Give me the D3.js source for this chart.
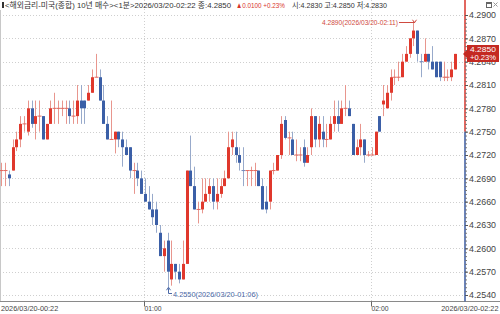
<!DOCTYPE html>
<html><head><meta charset="utf-8">
<script src="https://cdn.jsdelivr.net/npm/d3@7"></script>
<style>
body{margin:0;background:#fff}
svg{display:block}
text{font-family:"Liberation Sans","Noto Sans CJK KR",sans-serif}
</style></head>
<body><svg id="c" width="500" height="314"></svg>
<script>
// ---------- data ----------
const startTime = "2026-03-20T00:22";
const endTime   = "2026-03-20T02:22";
const openV  = [4.2700,4.2700,4.2695,4.2700,4.2730,4.2740,4.2760,4.2750,4.2780,4.2760,4.2770,4.2770,4.2740,4.2760,4.2780,4.2780,4.2780,4.2780,4.2780,4.2770,
4.2770,4.2790,4.2790,4.2790,4.2800,4.2820,4.2820,4.2790,4.2760,4.2740,4.2740,4.2750,4.2740,4.2730,4.2730,4.2700,4.2700,4.2690,4.2670,4.2660,
4.2650,4.2650,4.2620,4.2590,4.2610,4.2560,4.2580,4.2570,4.2560,4.2580,4.2700,4.2680,4.2650,4.2650,4.2660,4.2670,4.2680,4.2660,4.2670,4.2680,
4.2690,4.2730,4.2730,4.2720,4.2700,4.2700,4.2700,4.2700,4.2700,4.2680,4.2660,4.2660,4.2700,4.2700,4.2720,4.2765,4.2742,4.2740,4.2720,4.2720,
4.2730,4.2710,4.2730,4.2770,4.2740,4.2750,4.2740,4.2740,4.2760,4.2770,4.2760,4.2780,4.2780,4.2760,4.2720,4.2730,4.2740,4.2720,4.2720,4.2720,
4.2770,4.2785,4.2780,4.2800,4.2820,4.2820,4.2820,4.2840,4.2850,4.2870,4.2880,4.2840,4.2840,4.2850,4.2840,4.2840,4.2840,4.2820,4.2820,4.2820,4.2830];
const highV  = [4.2710,4.2710,4.2700,4.2740,4.2750,4.2770,4.2770,4.2790,4.2790,4.2790,4.2790,4.2770,4.2760,4.2790,4.2800,4.2790,4.2790,4.2790,4.2790,4.2790,
4.2810,4.2810,4.2790,4.2810,4.2830,4.2850,4.2830,4.2810,4.2770,4.2790,4.2750,4.2750,4.2750,4.2740,4.2730,4.2710,4.2710,4.2700,4.2690,4.2680,
4.2670,4.2660,4.2630,4.2610,4.2620,4.2610,4.2580,4.2580,4.2610,4.2700,4.2745,4.2705,4.2660,4.2690,4.2690,4.2690,4.2690,4.2690,4.2690,4.2700,
4.2750,4.2750,4.2750,4.2730,4.2730,4.2700,4.2705,4.2710,4.2700,4.2690,4.2680,4.2700,4.2710,4.2720,4.2770,4.2770,4.2750,4.2750,4.2740,4.2730,
4.2740,4.2730,4.2780,4.2770,4.2770,4.2770,4.2760,4.2770,4.2790,4.2790,4.2790,4.2810,4.2790,4.2760,4.2740,4.2760,4.2740,4.2725,4.2730,4.2750,
4.2770,4.2810,4.2810,4.2830,4.2830,4.2840,4.2850,4.2860,4.2870,4.2890,4.2880,4.2850,4.2870,4.2850,4.2860,4.2840,4.2840,4.2840,4.2830,4.2840,4.2850];
const lowV   = [4.2680,4.2680,4.2680,4.2700,4.2725,4.2730,4.2750,4.2745,4.2755,4.2740,4.2750,4.2740,4.2740,4.2760,4.2760,4.2760,4.2770,4.2760,4.2760,4.2760,
4.2760,4.2760,4.2760,4.2790,4.2800,4.2820,4.2790,4.2760,4.2740,4.2740,4.2722,4.2730,4.2705,4.2720,4.2690,4.2670,4.2680,4.2670,4.2660,4.2650,
4.2630,4.2620,4.2590,4.2570,4.2550,4.2552,4.2560,4.2555,4.2560,4.2580,4.2680,4.2650,4.2632,4.2645,4.2660,4.2660,4.2650,4.2650,4.2665,4.2680,
4.2690,4.2720,4.2710,4.2700,4.2680,4.2680,4.2680,4.2680,4.2680,4.2650,4.2645,4.2650,4.2695,4.2700,4.2715,4.2740,4.2720,4.2720,4.2712,4.2712,
4.2705,4.2710,4.2720,4.2730,4.2730,4.2730,4.2730,4.2740,4.2750,4.2750,4.2760,4.2770,4.2770,4.2720,4.2720,4.2720,4.2710,4.2718,4.2720,4.2720,
4.2750,4.2770,4.2780,4.2790,4.2810,4.2815,4.2820,4.2840,4.2845,4.2860,4.2840,4.2820,4.2840,4.2830,4.2830,4.2820,4.2815,4.2815,4.2815,4.2815,4.2830];
const closeV = [4.2700,4.2700,4.2690,4.2730,4.2740,4.2760,4.2760,4.2780,4.2760,4.2770,4.2770,4.2740,4.2760,4.2780,4.2780,4.2780,4.2780,4.2780,4.2770,4.2770,
4.2790,4.2780,4.2780,4.2800,4.2820,4.2820,4.2790,4.2760,4.2740,4.2740,4.2750,4.2740,4.2730,4.2720,4.2700,4.2700,4.2690,4.2670,4.2660,4.2650,
4.2640,4.2630,4.2590,4.2600,4.2570,4.2580,4.2570,4.2560,4.2580,4.2700,4.2680,4.2650,4.2650,4.2660,4.2670,4.2680,4.2660,4.2670,4.2680,4.2690,
4.2730,4.2740,4.2720,4.2710,4.2700,4.2700,4.2700,4.2700,4.2680,4.2650,4.2650,4.2700,4.2700,4.2720,4.2760,4.2742,4.2742,4.2720,4.2720,4.2720,
4.2710,4.2720,4.2770,4.2740,4.2760,4.2740,4.2740,4.2760,4.2770,4.2760,4.2780,4.2780,4.2770,4.2720,4.2730,4.2740,4.2720,4.2720,4.2720,4.2750,
4.2750,4.2790,4.2800,4.2820,4.2820,4.2820,4.2840,4.2850,4.2870,4.2880,4.2850,4.2840,4.2850,4.2840,4.2830,4.2820,4.2820,4.2820,4.2820,4.2830,4.2850];
const yTickValues = [4.2900,4.2870,4.2840,4.2810,4.2780,4.2750,4.2720,4.2690,4.2660,4.2630,4.2600,4.2570,4.2540];
const xTickTimes  = ["2026-03-20T01:00","2026-03-20T02:00"];
const startLabel = "2026/03/20-00:22", endLabel = "2026/03/20-02:22";
const titleMain   = "<해외금리-미국(종합) 10년 매수><1분>2026/03/20-02:22 종:4.2850";
const titleChange = "▲0.0100 +0.23%";
const titleOHL    = "시:4.2830 고:4.2850 저:4.2830";
const lastPrice = 4.2850, lastChange = 0.0100, lastPct = "+0.23%";
const maxLabel = "4.2890(2026/03/20-02:11)", maxTime = "2026-03-20T02:11", maxPrice = 4.2890;
const minLabel = "4.2550(2026/03/20-01:06)", minTime = "2026-03-20T01:06", minPrice = 4.2550;

// ---------- setup ----------
const parse = d3.timeParse("%Y-%m-%dT%H:%M");
const t0 = parse(startTime), t1 = parse(endTime);
const times = d3.timeMinute.range(t0, d3.timeMinute.offset(t1, 1));
const data = times.map((t, i) => ({t, o: openV[i], h: highV[i], l: lowV[i], c: closeV[i], pc: i ? closeV[i-1] : openV[i]}));
const basePrice = lastPrice - lastChange;

const svg = d3.select("#c");
const axisX = 465, bottomY = 301.5;
const x = d3.scaleTime().domain([t0, t1]).range([1.8, 455.4]);
const y = d3.scaleLinear().domain([4.2540, 4.2900]).range([295, 15]);

const RED = "#e0382c", BLUE = "#3b5fa7", RED_W = "#e8968e", BLUE_W = "#98aacb";

// grid
const grid = svg.append("g").attr("stroke", "#cfcfcf").attr("stroke-dasharray", "1,2").attr("stroke-width", 1);
grid.selectAll("line.h").data(yTickValues).join("line")
  .attr("x1", 0).attr("x2", axisX).attr("y1", d => Math.round(y(d)) + 0.5).attr("y2", d => Math.round(y(d)) + 0.5);
grid.selectAll("line.v").data(xTickTimes.map(parse)).join("line").attr("class", "v")
  .attr("x1", d => Math.round(x(d)) - 0.5).attr("x2", d => Math.round(x(d)) - 0.5).attr("y1", 0).attr("y2", bottomY);

// frame lines
svg.append("line").attr("x1", 0.5).attr("x2", 0.5).attr("y1", 10).attr("y2", bottomY).attr("stroke", "#c8c8c8");
svg.append("line").attr("x1", 0).attr("x2", 500).attr("y1", bottomY).attr("y2", bottomY).attr("stroke", "#8a8a8a");

// candles
const cg = svg.append("g");
const bw = 3;
data.forEach(d => {
  const cx = Math.round(x(d.t) - bw / 2);
  const up = d.c > d.o || (d.c === d.o && d.c >= d.pc);
  const wc = up ? RED_W : BLUE_W;
  cg.append("line").attr("x1", cx + 1.5).attr("x2", cx + 1.5).attr("y1", y(d.h)).attr("y2", y(d.l))
    .attr("stroke", wc).attr("stroke-width", 1);
  if (d.c === d.o) {
    cg.append("rect").attr("x", cx - 0.5).attr("width", bw + 1).attr("y", y(d.c) - 0.5).attr("height", 1)
      .attr("fill", up ? "#e2685e" : "#7289bb");
  } else {
    const top = y(Math.max(d.o, d.c)), bot = y(Math.min(d.o, d.c));
    cg.append("rect").attr("x", cx).attr("width", bw).attr("y", top).attr("height", Math.max(1, bot - top))
      .attr("fill", up ? RED : BLUE);
  }
});

// y axis
svg.append("line").attr("x1", axisX).attr("x2", axisX).attr("y1", 0).attr("y2", y(basePrice))
  .attr("stroke", "#d8352b").attr("stroke-width", 1.5);
svg.append("line").attr("x1", axisX).attr("x2", axisX).attr("y1", y(basePrice)).attr("y2", bottomY)
  .attr("stroke", "#3a5aa2").attr("stroke-width", 1.5);
const minorG = svg.append("g").attr("transform", `translate(${axisX},0)`)
  .call(d3.axisRight(y).tickValues(d3.range(4.2540, 4.29001, 0.0005)).tickSize(2).tickFormat(""));
minorG.select(".domain").remove();
minorG.selectAll("line").attr("stroke", "#777");
const yAxisG = svg.append("g").attr("transform", `translate(${axisX},0)`)
  .call(d3.axisRight(y).tickValues(yTickValues).tickSize(3).tickPadding(1).tickFormat(d3.format(".4f")));
yAxisG.select(".domain").remove();
yAxisG.selectAll("line").attr("stroke", "#555");
yAxisG.selectAll("text").attr("font-size", 8.5).attr("fill", "#444")
  .attr("font-family", "Liberation Sans, sans-serif").attr("textLength", 27).attr("lengthAdjust", "spacingAndGlyphs");

// x axis
const xAxisG = svg.append("g").attr("transform", `translate(0,${bottomY})`)
  .call(d3.axisBottom(x).tickValues(xTickTimes.map(parse)).tickSize(5).tickFormat(d3.timeFormat("%H:%M")));
xAxisG.select(".domain").remove();
xAxisG.selectAll(".tick").attr("transform", d => `translate(${Math.round(x(d)) - 0.5},0)`);
xAxisG.selectAll("line").attr("stroke", "#666");
xAxisG.selectAll("text").attr("text-anchor", "start").attr("x", 0).attr("dy", null).attr("y", 9)
  .attr("font-size", 8).attr("fill", "#444").attr("textLength", 17).attr("lengthAdjust", "spacingAndGlyphs");
svg.append("text").attr("x", 1).attr("y", 310.5).attr("font-size", 7.3).attr("fill", "#444").text(startLabel);
svg.append("text").attr("x", 498.5).attr("y", 310.5).attr("text-anchor", "end").attr("font-size", 7.3).attr("fill", "#444").text(endLabel);

// last price tag
const ty = y(lastPrice);
svg.append("path")
  .attr("d", `M${axisX - 2},${ty} L${axisX + 2},${ty - 4} L${axisX + 2},${ty - 9} L499,${ty - 9} L499,${ty + 8} L${axisX + 2},${ty + 8} L${axisX + 2},${ty + 4} Z`)
  .attr("fill", "#c42a22");
svg.append("text").attr("x", 483).attr("y", ty - 1.5).attr("text-anchor", "middle").attr("font-size", 7.5).attr("fill", "#fff")
  .attr("textLength", 26).attr("lengthAdjust", "spacingAndGlyphs").text(d3.format(".4f")(lastPrice));
svg.append("text").attr("x", 483).attr("y", ty + 6).attr("text-anchor", "middle").attr("font-size", 7.5).attr("fill", "#fff")
  .attr("textLength", 26).attr("lengthAdjust", "spacingAndGlyphs").text(lastPct);

// max annotation
const mx = Math.round(x(parse(maxTime))) + 0.5, my = y(maxPrice);
svg.append("text").attr("x", 322).attr("y", 25).attr("font-size", 8).attr("fill", "#cf4a40")
  .attr("textLength", 76).attr("lengthAdjust", "spacingAndGlyphs").text(maxLabel);
svg.append("path").attr("d", `M399,${22.5} H${mx} V${my - 1}`).attr("fill", "none").attr("stroke", "#cf4a40");
svg.append("path").attr("d", `M${mx - 2},${my - 3} L${mx},${my} L${mx + 2},${my - 3}`).attr("fill", "none").attr("stroke", "#cf4a40");

// min annotation
const nx = Math.round(x(parse(minTime))) + 0.5, ny = y(minPrice);
svg.append("path").attr("d", `M${nx},${ny + 1} V293.5 H172`).attr("fill", "none").attr("stroke", "#4a68a6");
svg.append("path").attr("d", `M${nx - 2},${ny + 3} L${nx},${ny} L${nx + 2},${ny + 3}`).attr("fill", "none").attr("stroke", "#4a68a6");
svg.append("text").attr("x", 173).attr("y", 296.5).attr("font-size", 8).attr("fill", "#4a68a6")
  .attr("textLength", 85).attr("lengthAdjust", "spacingAndGlyphs").text(minLabel);

// title
svg.append("rect").attr("x", 2).attr("y", 2).attr("width", 2).attr("height", 6).attr("fill", "#333");
svg.append("text").attr("x", 5).attr("y", 8).attr("font-size", 8).attr("fill", "#333")
  .attr("textLength", 226).attr("lengthAdjust", "spacingAndGlyphs").text(titleMain);
svg.append("text").attr("x", 236).attr("y", 8).attr("font-size", 8).attr("fill", "#d8352b")
  .attr("textLength", 49).attr("lengthAdjust", "spacingAndGlyphs").text(titleChange);
svg.append("text").attr("x", 292).attr("y", 8).attr("font-size", 8).attr("fill", "#333")
  .attr("textLength", 95).attr("lengthAdjust", "spacingAndGlyphs").text(titleOHL);

// window icons
svg.append("rect").attr("x", 486.5).attr("y", 2.5).attr("width", 5).attr("height", 5).attr("fill", "#fff").attr("stroke", "#666");
svg.append("rect").attr("x", 486.5).attr("y", 2.5).attr("width", 5).attr("height", 1.5).attr("fill", "#666");
svg.append("path").attr("d", "M493.5,2.5 L497.5,6.5 M497.5,2.5 L493.5,6.5").attr("stroke", "#999");
</script></body></html>
